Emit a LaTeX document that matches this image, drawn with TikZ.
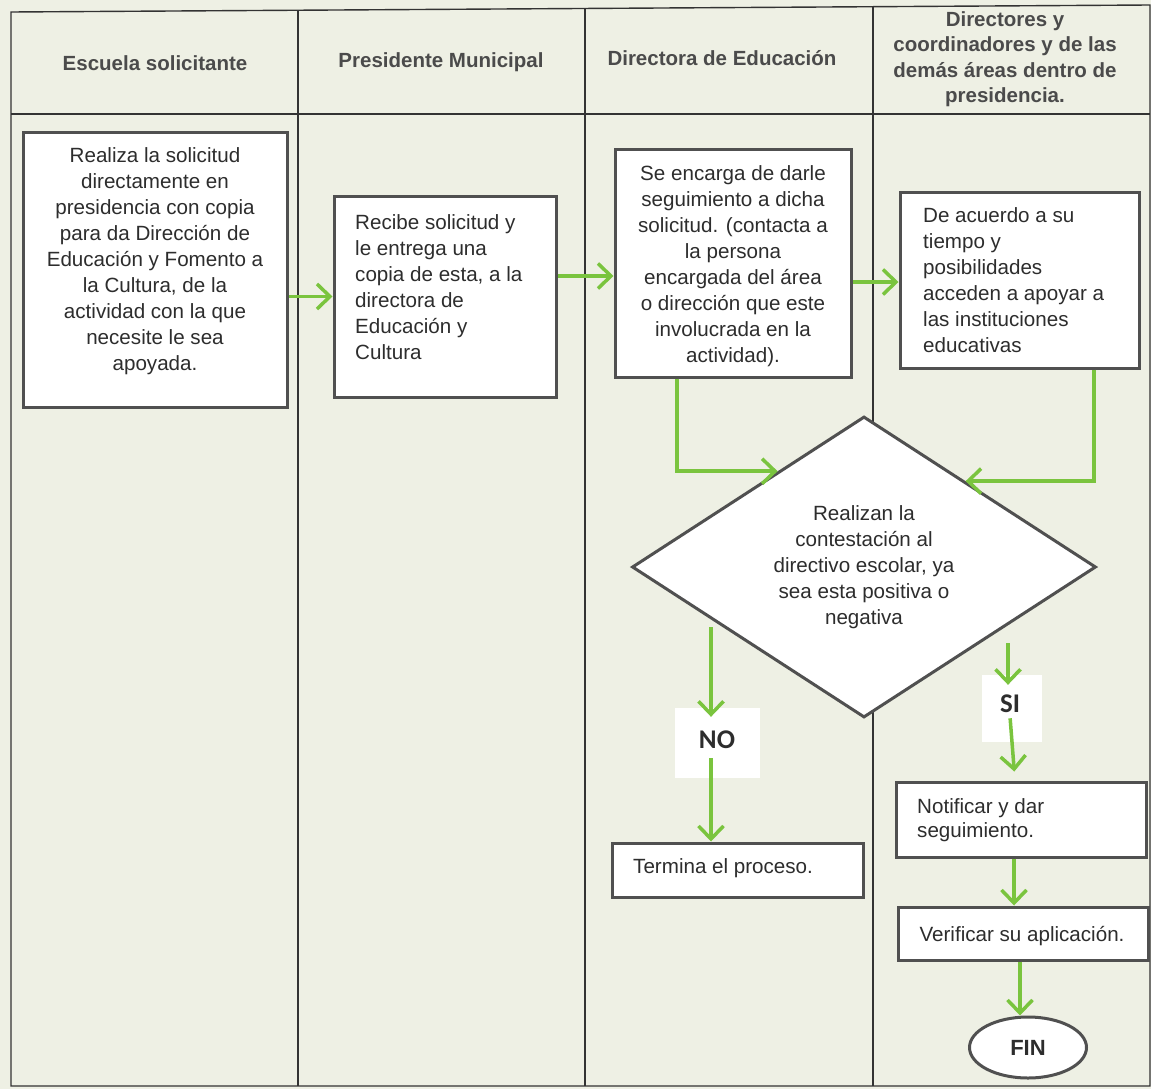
\documentclass[tikz,border=0pt]{standalone}
\usepackage{fontspec}
\setmainfont{Liberation Sans}
\newfontfamily\calfont{Carlito}
\usetikzlibrary{shapes.geometric,arrows.meta,calc}
\definecolor{paper}{RGB}{238,240,228}
\definecolor{grn}{RGB}{122,196,62}
\definecolor{bord}{RGB}{80,80,80}
\definecolor{ink}{RGB}{45,45,45}
\definecolor{hdr}{RGB}{75,75,75}
\begin{document}
\begin{tikzpicture}[x=1pt,y=-1pt,
  box/.style={draw=bord, line width=3pt, fill=white, inner sep=0pt},
  txt/.style={text=ink, font=\fontsize{20.6}{26}\selectfont, inner sep=0pt},
  hd/.style={text=hdr, font=\bfseries\fontsize{20.5}{25.5}\selectfont, align=center, inner sep=0pt},
  arr/.style={draw=grn, line width=3.5pt, -{Straight Barb[length=13pt,width=25pt]}},
  lane/.style={draw=black!80, line width=1.4pt},
  lbl/.style={fill=white, inner sep=0pt, text=ink, font=\calfont\bfseries\fontsize{27}{27}\selectfont}
]
\useasboundingbox (0,0) rectangle (1151,1089);
\fill[paper] (0,0) rectangle (1151,1089);

% swimlane frame
\draw[lane] (11,12) -- (1150,5) -- (1150,1086) -- (11,1086) -- cycle;
\draw[lane] (11,114) -- (1150,114);
\draw[lane] (298,10.5) -- (298,1086);
\draw[lane] (585,8.5) -- (585,1086);
\draw[lane] (873,7) -- (873,1086);

% headers
\node[hd] (h1) at (155,63) {Escuela solicitante};
\node[hd] (h2) at (441,62) {Presidente Municipal};
\node[hd] (h3) at (722,58) {Directora de Educación};
\node[hd] (h4) at (1005,59) {Directores y\\coordinadores y de las\\demás áreas dentro de\\presidencia.};

% boxes
\node[box, minimum width=264pt, minimum height=274pt] (b1) at (155,270) {};
\node[txt, align=center] (t1) at (155,261) {Realiza la solicitud\\directamente en\\presidencia con copia\\para da Dirección de\\Educación y Fomento a\\la Cultura, de la\\actividad con la que\\necesite le sea\\apoyada.};

\node[box, minimum width=222pt, minimum height=201pt] (b2) at (445,296.5) {};
\node[txt, align=left, anchor=west] (t2) at (355,287) {Recibe solicitud y\\le entrega una\\copia de esta, a la\\directora de\\Educación y\\Cultura};

\node[box, minimum width=236pt, minimum height=227pt] (b3) at (733,263.5) {};
\node[txt, align=center] (t3) at (733,266) {Se encarga de darle\\seguimiento a dicha\\solicitud. (contacta a\\la persona\\encargada del área\\o dirección que este\\involucrada en la\\actividad).};

\node[box, minimum width=239pt, minimum height=176pt] (b4) at (1019.5,280) {};
\node[txt, align=left, anchor=west] (t4) at (923,280) {De acuerdo a su\\tiempo y\\posibilidades\\acceden a apoyar a\\las instituciones\\educativas};

% decision
\node[draw=bord, line width=3pt, fill=white, diamond, aspect=1.54, minimum width=464pt, minimum height=301pt, inner sep=0pt] (d) at (864,567) {};
\node[txt, align=center] (td) at (864,567) {Realizan la\\contestación al\\directivo escolar, ya\\sea esta positiva o\\negativa};

% end boxes
\node[box, minimum width=251pt, minimum height=54pt] (b5) at (737.5,870) {};
\node[txt, anchor=west] (t5) at (633,868) {Termina el proceso.};

\node[box, minimum width=250pt, minimum height=75pt] (b6) at (1021,819.5) {};
\node[txt, align=left, anchor=west, font=\fontsize{20.6}{24}\selectfont] (t6) at (917,820) {Notificar y dar\\seguimiento.};

\node[box, minimum width=250pt, minimum height=53pt] (b7) at (1023,933.5) {};
\node[txt] (t7) at (1022,936) {Verificar su aplicación.};

\node[ellipse, draw=bord, line width=3pt, fill=white, minimum width=117pt, minimum height=61pt, inner sep=0pt, text=ink, font=\bfseries\fontsize{22}{22}\selectfont] (fin) at (1028,1047.5) {FIN};

% labels
\node[lbl, minimum width=85pt, minimum height=70pt] (nob) at (717.5,743) {};
\node[lbl] (not) at (717,740) {NO};
\node[lbl, minimum width=60pt, minimum height=67pt] (sib) at (1012,708.5) {};
\node[lbl] (sit) at (1010,704) {SI};

% connectors
\coordinate (y2) at (0,276);
\coordinate (y3) at (0,282);
\coordinate (c3) at (677,469);
\coordinate (c4) at (1094,480);
\coordinate (n1) at (711,627);
\coordinate (s1) at (1008,643);
\coordinate (s2) at (1012,0);
\coordinate (s3) at (1015,0);
\coordinate (s4) at (1014,0);
\coordinate (s5) at (1020,0);

\draw[arr] (b1.east |- b2.west) -- (b2.west);
\draw[arr] (b2.east |- y2) -- (b3.west |- y2);
\draw[arr] (b3.east |- y3) -- (b4.west |- y3);
\draw[arr] (b3.south -| c3) |- ($(d.west)!0.63!(d.north)$);
\draw[arr] (b4.south -| c4) |- ($(d.north)!0.435!(d.east)$);
\draw[arr, shorten >=-9pt] (n1) -- (nob.north -| n1);
\draw[arr, shorten <=-20pt] (nob.south -| n1) -- (b5.north -| n1);
\draw[arr, shorten >=-10pt] (s1) -- (sib.north -| s1);
\draw[arr, shorten <=-24pt, shorten >=9pt] (sib.south -| s2) -- (b6.north -| s3);
\draw[arr] (b6.south -| s4) -- (b7.north -| s4);
\draw[arr] (b7.south -| s5) -- (fin.north -| s5);
\end{tikzpicture}
\end{document}
